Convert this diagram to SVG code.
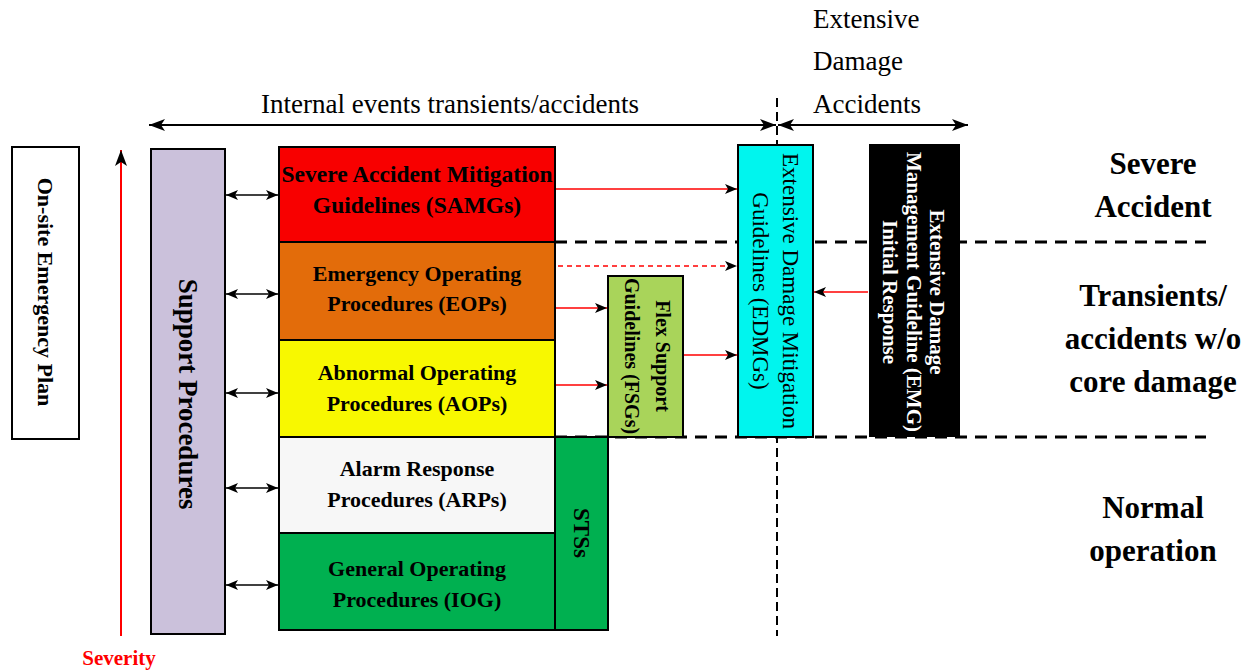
<svg xmlns="http://www.w3.org/2000/svg" width="1254" height="671" viewBox="0 0 1254 671">
<defs>
<style>
text{font-family:"Liberation Serif","Times New Roman",serif;fill:#000}
.b{font-weight:bold}
.box{stroke:#000;stroke-width:2}
.bl{font-size:22px;font-weight:bold;text-anchor:middle}
.lvl{font-size:31px;font-weight:bold;text-anchor:middle}
.guide{stroke:#000;stroke-width:3;stroke-dasharray:12 8;fill:none}
.blk{stroke:#000;stroke-width:1.6;fill:none}
.red{stroke:#f00;stroke-width:1.6;fill:none}
</style>
<marker id="ah" viewBox="0 0 12 10" refX="12" refY="5" markerWidth="12" markerHeight="10" markerUnits="userSpaceOnUse" orient="auto-start-reverse"><path d="M0,0 L12,5 L0,10 L3,5 z" fill="#000"/></marker>
<marker id="ahL" viewBox="0 0 16 12" refX="16" refY="6" markerWidth="16" markerHeight="12" markerUnits="userSpaceOnUse" orient="auto-start-reverse"><path d="M0,0 L16,6 L0,12 L4,6 z" fill="#000"/></marker>
</defs>
<rect width="1254" height="671" fill="#fff"/>

<g id="guides">
<line x1="777" y1="98" x2="777" y2="636" stroke="#000" stroke-width="2" stroke-dasharray="9 5"/>
<line class="guide" x1="555" y1="242" x2="1206" y2="242"/>
<line class="guide" x1="555" y1="437" x2="1206" y2="437"/>
</g>

<g id="scope-labels">
<text x="450" y="113" font-size="27px" text-anchor="middle">Internal events transients/accidents</text>
<text x="813" y="28" font-size="27px">Extensive</text>
<text x="813" y="70" font-size="27px">Damage</text>
<text x="813" y="113" font-size="27px">Accidents</text>
<line x1="149" y1="125" x2="776" y2="125" stroke="#000" stroke-width="2" marker-start="url(#ahL)" marker-end="url(#ahL)"/>
<line x1="778" y1="125" x2="968" y2="125" stroke="#000" stroke-width="2" marker-start="url(#ahL)" marker-end="url(#ahL)"/>
</g>

<g id="level-labels">
<text class="lvl" x="1153" y="174">Severe</text>
<text class="lvl" x="1153" y="217">Accident</text>
<text class="lvl" x="1153" y="306">Transients/</text>
<text class="lvl" x="1153" y="349">accidents w/o</text>
<text class="lvl" x="1153" y="392">core damage</text>
<text class="lvl" x="1153" y="518">Normal</text>
<text class="lvl" x="1153" y="561">operation</text>
</g>

<g id="severity">
<line x1="121" y1="636" x2="121" y2="150" stroke="#f00" stroke-width="2" marker-end="url(#ahL)"/>
<text x="119" y="665" font-size="21px" font-weight="bold" text-anchor="middle" style="fill:#f00">Severity</text>
</g>

<g id="onsite-plan">
<rect class="box" x="12" y="147" width="67" height="292" fill="#fff"/>
<text class="b" font-size="22px" text-anchor="middle" transform="translate(45.5,292) rotate(90)" y="7.5">On-site Emergency Plan</text>
</g>

<g id="support-procedures">
<rect class="box" x="151" y="149" width="74" height="485" fill="#CBC1DB"/>
<text class="b" font-size="27px" text-anchor="middle" transform="translate(188,394) rotate(90)" y="9">Support Procedures</text>
</g>

<g id="samg">
<rect class="box" x="279" y="147" width="276" height="95" fill="#F80000"/>
<text class="b" x="417" y="182" font-size="23.5px" text-anchor="middle">Severe Accident Mitigation</text>
<text class="b" x="417" y="213" font-size="23.5px" text-anchor="middle">Guidelines (SAMGs)</text>
</g>

<g id="eop">
<rect class="box" x="279" y="242" width="276" height="98" fill="#E36C0A"/>
<text class="bl" x="417" y="281">Emergency Operating</text>
<text class="bl" x="417" y="311">Procedures (EOPs)</text>
</g>

<g id="aop">
<rect class="box" x="279" y="340" width="276" height="97" fill="#F8F800"/>
<text class="bl" x="417" y="380">Abnormal Operating</text>
<text class="bl" x="417" y="411">Procedures (AOPs)</text>
</g>

<g id="arp">
<rect class="box" x="279" y="437" width="276" height="96" fill="#F7F7F7"/>
<text class="bl" x="417" y="476">Alarm Response</text>
<text class="bl" x="417" y="507">Procedures (ARPs)</text>
</g>

<g id="gop">
<rect class="box" x="279" y="533" width="276" height="97" fill="#00B050"/>
<text class="bl" x="417" y="576">General Operating</text>
<text class="bl" x="417" y="607">Procedures (IOG)</text>
</g>

<g id="sts">
<rect class="box" x="555" y="437" width="53" height="193" fill="#00B050"/>
<text class="b" font-size="23px" text-anchor="middle" transform="translate(582,533) rotate(90)" y="8">STSs</text>
</g>

<g id="fsg">
<rect class="box" x="608" y="276" width="75" height="161" fill="#A9D45A"/>
<text class="b" font-size="20px" text-anchor="middle" transform="translate(645.5,356) rotate(90)"><tspan x="0" y="-10">Flex Support</tspan><tspan x="0" y="21">Guidelines (FSGs)</tspan></text>
</g>

<g id="edmg">
<rect class="box" x="738" y="145" width="75" height="292" fill="#00F5EE"/>
<text font-size="23px" text-anchor="middle" transform="translate(775.5,291) rotate(90)"><tspan x="0" y="-7">Extensive Damage Mitigation</tspan><tspan x="0" y="23">Guidelines (EDMGs)</tspan></text>
</g>

<g id="emg">
<rect x="869" y="144" width="91" height="293" fill="#000"/>
<text class="b" font-size="21px" text-anchor="middle" style="fill:#fff" transform="translate(914,292) rotate(90)"><tspan x="0" y="-16">Extensive Damage</tspan><tspan x="0" y="7.5">Management Guideline (EMG)</tspan><tspan x="0" y="31">Initial Response</tspan></text>
</g>

<g id="connectors">
<line class="blk" x1="226" y1="195" x2="278" y2="195" marker-start="url(#ah)" marker-end="url(#ah)"/>
<line class="blk" x1="226" y1="294" x2="278" y2="294" marker-start="url(#ah)" marker-end="url(#ah)"/>
<line class="blk" x1="226" y1="393" x2="278" y2="393" marker-start="url(#ah)" marker-end="url(#ah)"/>
<line class="blk" x1="226" y1="488" x2="278" y2="488" marker-start="url(#ah)" marker-end="url(#ah)"/>
<line class="blk" x1="226" y1="585" x2="278" y2="585" marker-start="url(#ah)" marker-end="url(#ah)"/>
<line class="red" x1="556" y1="189" x2="737" y2="189" marker-end="url(#ah)"/>
<line class="red" x1="558" y1="266" x2="737" y2="266" stroke-dasharray="5 4" marker-end="url(#ah)"/>
<line class="red" x1="556" y1="308" x2="607" y2="308" marker-end="url(#ah)"/>
<line class="red" x1="556" y1="385" x2="607" y2="385" marker-end="url(#ah)"/>
<line class="red" x1="684" y1="355" x2="737" y2="355" marker-end="url(#ah)"/>
<line class="red" x1="868" y1="292" x2="814" y2="292" marker-end="url(#ah)"/>
</g>
</svg>
